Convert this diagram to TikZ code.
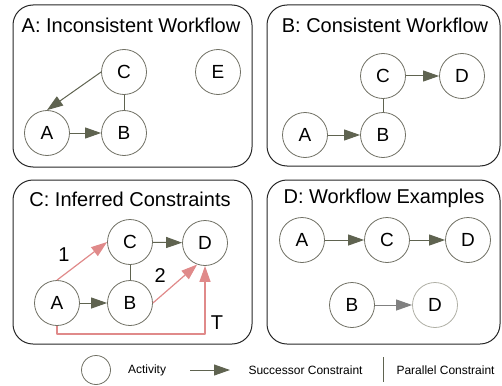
\documentclass[tikz,border=0pt]{standalone}
\usepackage{fontspec}
\setmainfont{Liberation Sans}
\usetikzlibrary{arrows.meta}
\definecolor{olv}{RGB}{95,99,80}
\definecolor{ring}{RGB}{112,112,100}
\definecolor{pale}{RGB}{175,175,165}
\definecolor{greyarr}{RGB}{128,128,128}
\definecolor{infred}{RGB}{224,138,138}
\tikzset{
	act/.style={circle,draw=ring,line width=0.8pt,minimum size=45pt,inner sep=0pt,font=\fontsize{19}{19}\selectfont},
	succ/.style={-{Triangle[length=16pt,width=11pt]},draw=olv,line width=1pt},
	par/.style={draw=olv,line width=0.9pt},
	inf/.style={-{Triangle[length=16pt,width=11pt]},draw=infred,line width=1.2pt},
	panel/.style={draw=black!85,line width=1pt,rounded corners=20pt},
	ttl/.style={font=\fontsize{20}{20}\selectfont},
	lgd/.style={font=\fontsize{12}{12}\selectfont}
}
\begin{document}
\begin{tikzpicture}[x=1pt,y=-1pt,line join=round]
	\useasboundingbox (0,0) rectangle (502,385);
	% panels
	\draw[panel] (13,5) rectangle (252,167);
	\draw[panel] (267,5) rectangle (500,166);
	\draw[panel] (13,180) rectangle (252,344);
	\draw[panel] (267,180) rectangle (500,344);
	\node[ttl] (ta) at (131,25) {A: Inconsistent Workflow};
	\node[ttl] (tb) at (385,25) {B: Consistent Workflow};
	\node[ttl] (tc) at (130,199) {C: Inferred Constraints};
	\node[ttl] (td) at (384,198) {D: Workflow Examples};
	% A: inconsistent
	\node[act] (aC) at (124,72) {C};
	\node[act] (aE) at (218,72) {E};
	\node[act] (aA) at (47,133) {A};
	\node[act] (aB) at (124,133) {B};
	\draw[succ] (aC.west) -- (aA.north);
	\draw[succ] (aA) -- (aB);
	\draw[par] (aC) -- (aB);
	% B: consistent
	\node[act] (bC) at (383,76) {C};
	\node[act] (bD) at (462,76) {D};
	\node[act] (bA) at (305,135) {A};
	\node[act] (bB) at (383,135) {B};
	\draw[succ] (bC) -- (bD);
	\draw[succ] (bA) -- (bB);
	\draw[par] (bC) -- (bB);
	% C: inferred
	\node[act] (cC) at (130,242) {C};
	\node[act] (cD) at (205,243) {D};
	\node[act] (cA) at (57,303) {A};
	\node[act] (cB) at (130,303) {B};
	\draw[succ] (cC) -- (cD);
	\draw[succ] (cA) -- (cB);
	\draw[par] (cC) -- (cB);
	\draw[inf] (cA.north) -- node[pos=0.35,above left=1pt,ttl]{1} (cC.west);
	\draw[inf] (cB.east) -- node[pos=0.4,above left=1pt,ttl]{2} (cD.250);
	\draw[inf] (cA.south) -- ++(0,8) -| node[pos=0.58,right=2pt,ttl]{T} (cD.south);
	% D: examples
	\node[act] (dA) at (302,240) {A};
	\node[act] (dC) at (387,240) {C};
	\node[act] (dD) at (468,240) {D};
	\node[act] (dB) at (352,305) {B};
	\node[act,draw=pale] (dD2) at (435,305) {D};
	\draw[succ] (dA) -- (dC);
	\draw[succ] (dC) -- (dD);
	\draw[succ,draw=greyarr] (dB) -- (dD2);
	% legend
	\node[act,minimum size=29pt] (lgact) at (96,370) {};
	\node[lgd] (lgacttxt) at (147,370) {Activity};
	\coordinate (lgs1) at (190,370);
	\coordinate (lgs2) at (230,370);
	\draw[succ] (lgs1) -- (lgs2);
	\node[lgd,anchor=west] (lgsucc) at (245,370) {Successor Constraint};
	\coordinate (lgp1) at (383,357);
	\coordinate (lgp2) at (383,382);
	\draw[par,line width=0.7pt] (lgp1) -- (lgp2);
	\node[lgd,anchor=west] (lgpar) at (393,370) {Parallel Constraint};
\end{tikzpicture}
\end{document}
